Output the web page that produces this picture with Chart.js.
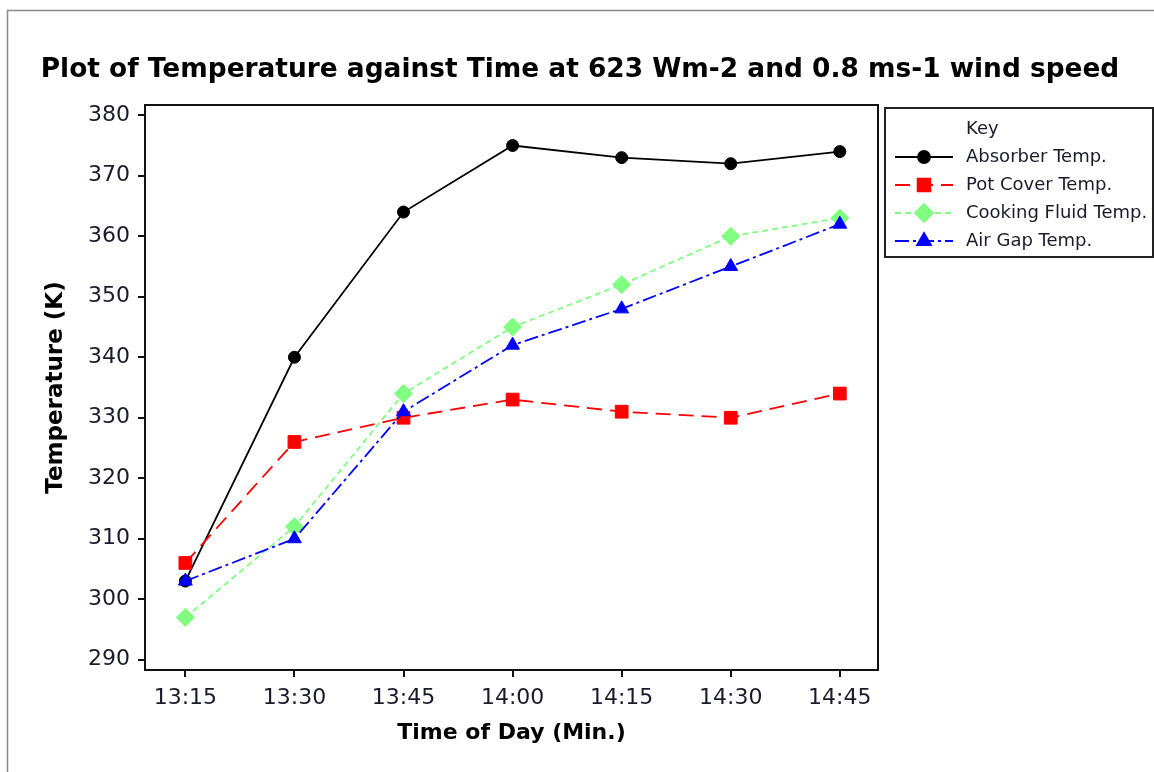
<!DOCTYPE html>
<html>
<head>
<meta charset="utf-8">
<script src="https://cdn.jsdelivr.net/npm/chart.js@4"></script>
<style>
  html, body { margin: 0; padding: 0; background: #fff; }
  #wrap { width: 1154px; height: 772px; }
</style>
</head>
<body>
<div id="wrap"><canvas id="tempChart" width="1154" height="772"></canvas></div>
<script>
// readings every 15 minutes
const times = ['13:15', '13:30', '13:45', '14:00', '14:15', '14:30', '14:45'];
const absorber = [303, 340, 364, 375, 373, 372, 374];
const potCover = [306, 326, 330, 333, 331, 330, 334];
const cookingFluid = [297, 312, 334, 345, 352, 360, 363];
const airGap = [303, 310, 331, 342, 348, 355, 362];

const chartTitle = 'Plot of Temperature against Time at 623 Wm-2 and 0.8 ms-1 wind speed';

const FONT = "'DejaVu Sans', Tahoma, Verdana, sans-serif";
const TXT = '#1a1a2a';

function pts(arr) {
  return arr.map((v, i) => ({ x: i, y: v }));
}

// title, frame round the plot, outer border and the "Key" box
const framePlugin = {
  id: 'frame',
  afterDraw(chart) {
    const ctx = chart.ctx;
    const a = chart.chartArea;
    ctx.save();
    // outer border
    ctx.strokeStyle = '#8a8a8a';
    ctx.lineWidth = 1.5;
    ctx.beginPath();
    ctx.moveTo(7.5, 772);
    ctx.lineTo(7.5, 10.5);
    ctx.lineTo(1154, 10.5);
    ctx.stroke();

    // title
    ctx.fillStyle = '#000';
    ctx.font = 'bold 26.4px ' + FONT;
    ctx.textAlign = 'center';
    ctx.textBaseline = 'alphabetic';
    ctx.fillText(chartTitle, 580, 77);

    // plot frame
    ctx.strokeStyle = '#111';
    ctx.lineWidth = 2;
    ctx.strokeRect(a.left, a.top, a.right - a.left, a.bottom - a.top);

    // key
    const bx = 885, by = 108, bw = 268, bh = 149;
    ctx.strokeStyle = '#222';
    ctx.lineWidth = 2;
    ctx.strokeRect(bx, by, bw, bh);
    ctx.fillStyle = TXT;
    ctx.font = '18px ' + FONT;
    ctx.textBaseline = 'middle';
    ctx.textAlign = 'left';
    ctx.fillText('Key', 966, 129);
    chart.data.datasets.forEach((ds, i) => {
      const y = 157 + i * 28;
      ctx.strokeStyle = ds.borderColor;
      ctx.lineWidth = 1.8;
      ctx.setLineDash(ds.borderDash || []);
      ctx.beginPath();
      ctx.moveTo(895, y);
      ctx.lineTo(953, y);
      ctx.stroke();
      ctx.setLineDash([]);
      Chart.helpers.drawPoint(ctx, {
        pointStyle: ds.pointStyle,
        radius: ds.pointRadius,
        borderWidth: 1
      }, 924, y);
      ctx.fillStyle = ds.pointBackgroundColor;
      ctx.fill();
      ctx.fillStyle = TXT;
      ctx.fillText(ds.label, 966, y);
    });
    ctx.restore();
  }
};

const tickFont = { family: FONT, size: 22 };

new Chart(document.getElementById('tempChart'), {
  type: 'line',
  data: {
    // later series sit on top of earlier ones
    datasets: [
      {
        label: 'Absorber Temp.',
        data: pts(absorber),
        order: 4,
        borderColor: '#000000',
        pointBackgroundColor: '#000000',
        pointBorderColor: '#000000',
        pointStyle: 'circle',
        pointRadius: 6
      },
      {
        label: 'Pot Cover Temp.',
        data: pts(potCover),
        order: 3,
        borderColor: '#ff0000',
        pointBackgroundColor: '#ff0000',
        pointBorderColor: '#ff0000',
        borderDash: [15, 8],
        pointStyle: 'rect',
        pointRadius: 9
      },
      {
        label: 'Cooking Fluid Temp.',
        data: pts(cookingFluid),
        order: 2,
        borderColor: '#80ff80',
        pointBackgroundColor: '#80ff80',
        pointBorderColor: '#80ff80',
        borderDash: [6, 4],
        pointStyle: 'rectRot',
        pointRadius: 9
      },
      {
        label: 'Air Gap Temp.',
        data: pts(airGap),
        order: 1,
        borderColor: '#0000ff',
        pointBackgroundColor: '#0000ff',
        pointBorderColor: '#0000ff',
        borderDash: [14, 4, 3, 4],
        pointStyle: 'triangle',
        pointRadius: 8
      }
    ]
  },
  options: {
    responsive: false,
    animation: false,
    layout: { padding: { left: 0, top: 105, right: 276, bottom: 0 } },
    elements: {
      line: { borderWidth: 1.8, tension: 0 },
      point: { borderWidth: 1 }
    },
    plugins: {
      legend: { display: false },
      tooltip: { enabled: false },
      title: { display: false }
    },
    scales: {
      x: {
        type: 'linear',
        min: -0.37,
        max: 6.35,
        afterFit(scale) { scale.height = 102; },
        border: { display: false },
        grid: { drawOnChartArea: false, drawTicks: true, tickLength: 7, color: '#111', lineWidth: 2 },
        ticks: {
          stepSize: 1,
          includeBounds: false,
          padding: 8,
          color: TXT,
          font: tickFont,
          maxRotation: 0,
          callback: v => times[v]
        },
        title: {
          display: true,
          text: 'Time of Day (Min.)',
          color: '#000',
          font: { family: FONT, size: 22, weight: 'bold' },
          padding: { top: 0, bottom: 26 }
        }
      },
      y: {
        min: 288.3,
        max: 381.7,
        afterFit(scale) { scale.width = 145; },
        border: { display: false },
        grid: { drawOnChartArea: false, drawTicks: true, tickLength: 7, color: '#111', lineWidth: 2 },
        ticks: {
          stepSize: 10,
          includeBounds: false,
          padding: 8,
          color: TXT,
          font: tickFont
        },
        title: {
          display: true,
          text: 'Temperature (K)',
          color: '#000',
          font: { family: FONT, size: 23, weight: 'bold' },
          padding: { top: 42, bottom: 0 }
        }
      }
    }
  },
  plugins: [framePlugin]
});
</script>
</body>
</html>
